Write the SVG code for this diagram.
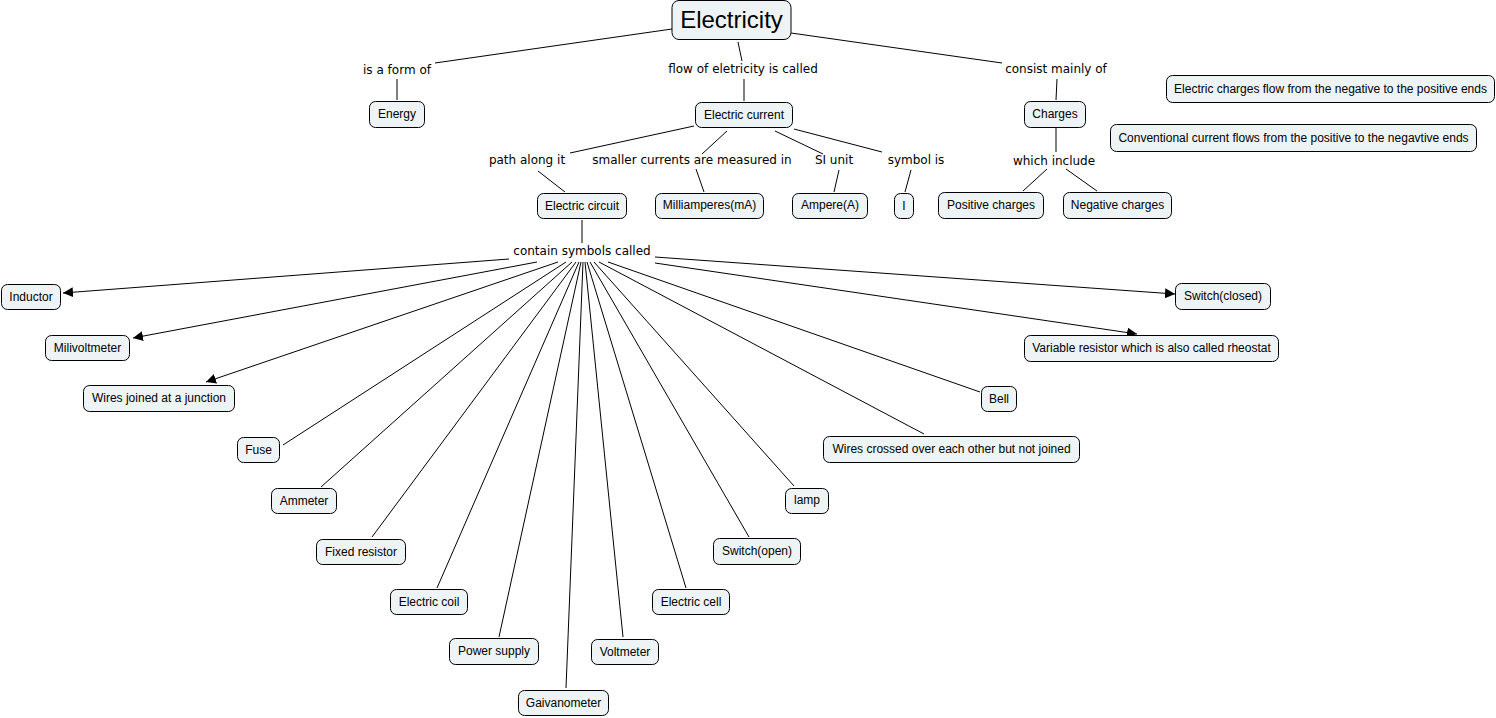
<svg xmlns="http://www.w3.org/2000/svg" width="1496" height="718" viewBox="0 0 1496 718">
<style>
.n rect{fill:#eef4f6;stroke:#000;stroke-width:1}
.n text{font-family:"Liberation Sans",Arial,sans-serif;font-size:12px;fill:#000;text-anchor:middle;dominant-baseline:central}
.l text{font-family:"DejaVu Sans",Verdana,sans-serif;font-size:12px;fill:#000;text-anchor:middle;dominant-baseline:central}
#connectors line{stroke:#000;stroke-width:1;fill:none}
</style>
<defs>
<marker id="arr" viewBox="0 0 10 10" refX="10" refY="5" markerWidth="10" markerHeight="10" markerUnits="userSpaceOnUse" orient="auto">
<path d="M0,0 L10,5 L0,10 z" fill="#000"/>
</marker>
</defs>
<rect width="1496" height="718" fill="#fff"/>
<g id="connectors">
<line x1="672" y1="29" x2="435" y2="63"/>
<line x1="397" y1="79" x2="397" y2="100"/>
<line x1="738" y1="42" x2="742" y2="61"/>
<line x1="744" y1="79" x2="744" y2="101"/>
<line x1="791" y1="33" x2="1002" y2="63"/>
<line x1="1057" y1="79" x2="1056" y2="100"/>
<line x1="1056" y1="128" x2="1056" y2="152"/>
<line x1="1047" y1="169" x2="1023" y2="191"/>
<line x1="1066" y1="169" x2="1097" y2="191"/>
<line x1="694" y1="126" x2="570" y2="153"/>
<line x1="538" y1="171" x2="565" y2="192"/>
<line x1="727" y1="131" x2="702" y2="154"/>
<line x1="696" y1="169" x2="704" y2="192"/>
<line x1="775" y1="131" x2="823" y2="154"/>
<line x1="839" y1="170" x2="834" y2="192"/>
<line x1="794" y1="129" x2="882" y2="152"/>
<line x1="911" y1="170" x2="905" y2="192"/>
<line x1="582" y1="220" x2="582" y2="243"/>
<line x1="509" y1="259" x2="63" y2="293" marker-end="url(#arr)"/>
<line x1="537" y1="262" x2="133" y2="338" marker-end="url(#arr)"/>
<line x1="558" y1="262" x2="206" y2="382" marker-end="url(#arr)"/>
<line x1="566" y1="262" x2="283" y2="445"/>
<line x1="572" y1="262" x2="321" y2="487"/>
<line x1="576" y1="262" x2="372" y2="537"/>
<line x1="579" y1="262" x2="437" y2="588"/>
<line x1="581" y1="262" x2="499" y2="637"/>
<line x1="583" y1="262" x2="566" y2="688"/>
<line x1="585" y1="262" x2="623" y2="637"/>
<line x1="587" y1="262" x2="686" y2="588"/>
<line x1="590" y1="262" x2="749" y2="537"/>
<line x1="594" y1="262" x2="794" y2="486"/>
<line x1="599" y1="262" x2="924" y2="434"/>
<line x1="608" y1="262" x2="980" y2="392"/>
<line x1="655" y1="263" x2="1137" y2="334" marker-end="url(#arr)"/>
<line x1="655" y1="257" x2="1175" y2="294" marker-end="url(#arr)"/>
</g>
<g class="l">
<g id="lbl-form"><text x="397" y="70">is a form of</text></g>
<g id="lbl-flow"><text x="743" y="69">flow of eletricity is called</text></g>
<g id="lbl-consist"><text x="1056" y="69">consist mainly of</text></g>
<g id="lbl-path"><text x="527" y="160">path along it</text></g>
<g id="lbl-smaller"><text x="692" y="160">smaller currents are measured in</text></g>
<g id="lbl-si"><text x="834" y="160">SI unit</text></g>
<g id="lbl-symbol"><text x="916" y="160">symbol is</text></g>
<g id="lbl-include"><text x="1054" y="161">which include</text></g>
<g id="lbl-contain"><text x="582" y="251">contain symbols called</text></g>
</g>
<g class="n">
<g id="electricity"><rect x="672" y="0.5" width="119" height="39" rx="7"/><text x="731.5" y="19" style="font-size:24px">Electricity</text></g>
<g id="energy"><rect x="369.5" y="101.5" width="55" height="26" rx="6"/><text x="397" y="114">Energy</text></g>
<g id="current"><rect x="695.5" y="102.5" width="97" height="25" rx="6"/><text x="744" y="115">Electric current</text></g>
<g id="charges"><rect x="1024.5" y="101.5" width="61" height="26" rx="6"/><text x="1055" y="114">Charges</text></g>
<g id="note1"><rect x="1166.5" y="75.5" width="328" height="27" rx="6"/><text x="1330.5" y="89">Electric charges flow from the negative to the positive ends</text></g>
<g id="note2"><rect x="1110.5" y="124.5" width="366" height="27" rx="6"/><text x="1293.5" y="138">Conventional current flows from the positive to the negavtive ends</text></g>
<g id="circuit"><rect x="537.5" y="193.5" width="89" height="25" rx="6"/><text x="582" y="206">Electric circuit</text></g>
<g id="milliamp"><rect x="655.5" y="193.5" width="108" height="25" rx="6"/><text x="709.5" y="205">Milliamperes(mA)</text></g>
<g id="ampere"><rect x="792.5" y="193.5" width="75" height="25" rx="6"/><text x="830" y="205">Ampere(A)</text></g>
<g id="symI"><rect x="894.5" y="193.5" width="19" height="25" rx="6"/><text x="904" y="206">I</text></g>
<g id="positive"><rect x="938.5" y="192.5" width="105" height="26" rx="6"/><text x="991" y="205">Positive charges</text></g>
<g id="negative"><rect x="1063.5" y="192.5" width="108" height="26" rx="6"/><text x="1117.5" y="205">Negative charges</text></g>
<g id="inductor"><rect x="1.5" y="284.5" width="59" height="25" rx="6"/><text x="31" y="297">Inductor</text></g>
<g id="milivoltmeter"><rect x="45.5" y="335.5" width="84" height="25" rx="6"/><text x="87.5" y="348">Milivoltmeter</text></g>
<g id="wiresjoined"><rect x="83.5" y="385.5" width="151" height="26" rx="6"/><text x="159" y="398">Wires joined at a junction</text></g>
<g id="fuse"><rect x="237.5" y="437.5" width="42" height="25" rx="6"/><text x="258.5" y="450">Fuse</text></g>
<g id="ammeter"><rect x="271.5" y="488.5" width="65" height="25" rx="6"/><text x="304" y="501">Ammeter</text></g>
<g id="fixedres"><rect x="316.5" y="539.5" width="89" height="25" rx="6"/><text x="361" y="552">Fixed resistor</text></g>
<g id="coil"><rect x="390.5" y="589.5" width="77" height="25" rx="6"/><text x="429" y="602">Electric coil</text></g>
<g id="power"><rect x="449.5" y="638.5" width="89" height="26" rx="6"/><text x="494" y="651">Power supply</text></g>
<g id="galvo"><rect x="518.5" y="690.5" width="90" height="25" rx="6"/><text x="563.5" y="703">Gaivanometer</text></g>
<g id="voltmeter"><rect x="591.5" y="639.5" width="67" height="25" rx="6"/><text x="625" y="652">Voltmeter</text></g>
<g id="cell"><rect x="652.5" y="589.5" width="77" height="25" rx="6"/><text x="691" y="602">Electric cell</text></g>
<g id="switchopen"><rect x="713.5" y="538.5" width="87" height="26" rx="6"/><text x="757" y="551">Switch(open)</text></g>
<g id="lamp"><rect x="785.5" y="488.5" width="43" height="25" rx="6"/><text x="807" y="500">lamp</text></g>
<g id="wirescrossed"><rect x="823.5" y="436.5" width="256" height="26" rx="6"/><text x="951.5" y="449">Wires crossed over each other but not joined</text></g>
<g id="bell"><rect x="981.5" y="386.5" width="35" height="25" rx="6"/><text x="999" y="399">Bell</text></g>
<g id="rheostat"><rect x="1024.5" y="335.5" width="254" height="26" rx="6"/><text x="1151.5" y="348">Variable resistor which is also called rheostat</text></g>
<g id="switchclosed"><rect x="1175.5" y="283.5" width="95" height="26" rx="6"/><text x="1223" y="296">Switch(closed)</text></g>
</g>
</svg>
